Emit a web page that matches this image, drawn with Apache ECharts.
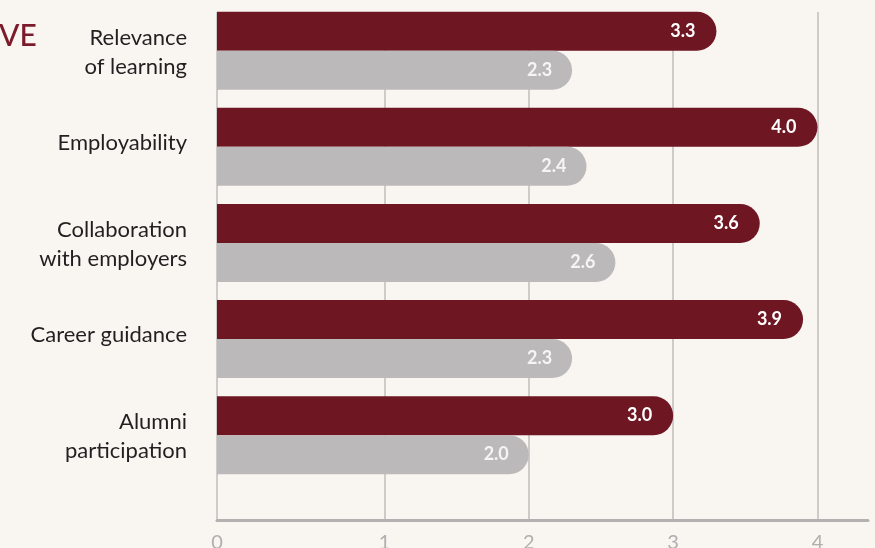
<!DOCTYPE html>
<html>
<head>
<meta charset="utf-8">
<script src="https://cdn.jsdelivr.net/npm/echarts@6/dist/echarts.min.js"></script>
<style>
html,body{margin:0;padding:0;background:#f9f6f2;}
#chart{width:875px;height:548px;}
</style>
</head>
<body>
<div id="chart"></div>
<script>
// ---- data ----
const categories = ['Relevance\nof learning', 'Employability', 'Collaboration\nwith employers', 'Career guidance', 'Alumni\nparticipation'];
const seriesDark = [3.3, 4.0, 3.6, 3.9, 3.0];
const seriesGray = [2.3, 2.4, 2.6, 2.3, 2.0];
const tickValues = [1, 2, 3, 4];
const titleText = 'VE';

// ---- styling / layout ----
const axisStart = -0.16;   // left edge of the plot (drawn as "0" in the original design)
const axisEnd = 4.35;
const FONT = 'Lato, "Noto Sans", sans-serif';
const DARK = '#6e1622';
const GRAY = '#bcb9ba';

const chart = echarts.init(document.getElementById('chart'), null, {renderer: 'canvas'});

const xCommon = {
  type: 'value', min: axisStart, max: axisEnd, startValue: axisStart
};

const option = {
  backgroundColor: '#f9f6f2',
  animation: false,
  graphic: [{
    type: 'text', left: -1, top: 21,
    style: {text: titleText, fill: '#7a1a2a', font: '500 30px ' + FONT}
  }],
  grid: [
    {left: 217, right: 7, top: 2.7, height: 480.5, containLabel: false, outerBoundsMode: 'none'},
    {left: 217, right: 7, top: 12, bottom: 27.5, containLabel: false, outerBoundsMode: 'none'}
  ],
  xAxis: [
    Object.assign({}, xCommon, {
      gridIndex: 0, show: false, splitLine: {show: false}
    }),
    Object.assign({}, xCommon, {
      gridIndex: 1,
      axisLine: {show: true, lineStyle: {color: '#b3b1b1', width: 3}},
      axisTick: {show: false, customValues: [axisStart].concat(tickValues)},
      splitLine: {show: true, lineStyle: {color: '#c4c1c1', width: 1.6}},
      axisLabel: {
        show: true,
        customValues: [axisStart].concat(tickValues),
        formatter: v => (v < 0.5 ? '0' : String(Math.round(v))),
        color: '#b1aeae', fontFamily: FONT, fontSize: 20,
        margin: 12, verticalAlign: 'top'
      }
    })
  ],
  yAxis: [
    {
      type: 'category', gridIndex: 0, data: categories, inverse: true,
      axisLine: {show: false}, axisTick: {show: false}, splitLine: {show: false},
      axisLabel: {
        color: '#231f20', fontFamily: FONT, fontSize: 22, lineHeight: 29,
        margin: 30, align: 'right',
        formatter: v => (v.indexOf('\n') < 0 ? '{one|' + v + '}' : '{two|' + v.split('\n').join('}\n{two|') + '}'),
        rich: {
          one: {fontFamily: FONT, fontSize: 22, color: '#231f20', lineHeight: 29, padding: [0, 0, 8, 0]},
          two: {fontFamily: FONT, fontSize: 22, color: '#231f20', lineHeight: 29, padding: [3, 0, 0, 0]}
        }
      }
    },
    {type: 'value', gridIndex: 1, show: false, splitLine: {show: false}}
  ],
  series: [
    {
      type: 'bar', name: 'dark', xAxisIndex: 0, yAxisIndex: 0, data: seriesDark,
      barWidth: 39, barGap: '0%',
      itemStyle: {color: DARK, borderRadius: [0, 20, 20, 0]},
      label: {
        show: true, position: 'insideRight', distance: 21,
        formatter: p => p.value.toFixed(1),
        color: '#ffffff', fontFamily: FONT, fontWeight: 'bold', fontSize: 18
      }
    },
    {
      type: 'bar', name: 'gray', xAxisIndex: 0, yAxisIndex: 0, data: seriesGray,
      barWidth: 39, barGap: '0%',
      itemStyle: {color: GRAY, borderRadius: [0, 20, 20, 0]},
      label: {
        show: true, position: 'insideRight', distance: 20,
        formatter: p => p.value.toFixed(1),
        color: '#f6f4f4', fontFamily: FONT, fontWeight: 'bold', fontSize: 18
      }
    }
  ]
};
chart.setOption(option);
</script>
</body>
</html>
